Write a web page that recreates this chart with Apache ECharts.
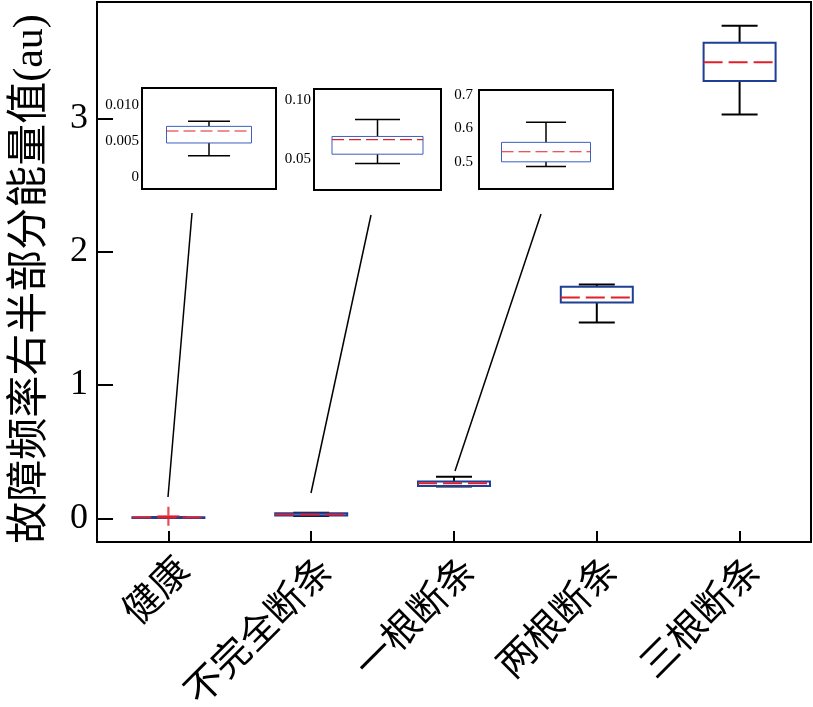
<!DOCTYPE html>
<html><head><meta charset="utf-8">
<script src="https://cdn.jsdelivr.net/npm/echarts@6/dist/echarts.min.js"></script>
<style>html,body{margin:0;padding:0;background:#fff}#c{width:813px;height:707px}</style>
</head><body><div id="c"></div>
<script>
// ---- data ----
const categories = ['健康', '不完全断条', '一根断条', '两根断条', '三根断条'];
const whiskerLow  = [0.002, 0.018, 0.238, 1.47, 3.029];
const quartile1   = [0.003, 0.020, 0.242, 1.62, 3.281];
const medians     = [0.006, 0.028, 0.262, 1.656, 3.421];
const quartile3   = [0.007, 0.037, 0.276, 1.737, 3.569];
const whiskerHigh = [0.008, 0.042, 0.312, 1.755, 3.696];
const outliers    = [[0, 0.015]];
const yTicks = [0, 1, 2, 3];

// inset boxes: [low, q1, median, q3, high]
const inset1Box = [0.00297, 0.00475, 0.00642, 0.00707, 0.00777];
const inset2Box = [0.0463, 0.0542, 0.0665, 0.0691, 0.0834];
const inset3Box = [0.486, 0.500, 0.530, 0.558, 0.618];
const inset1Ticks = [0, 0.005, 0.010];
const inset1Labels = ['0', '0.005', '0.010'];
const inset2Ticks = [0.05, 0.10];
const inset2Labels = ['0.05', '0.10'];
const inset3Ticks = [0.5, 0.6, 0.7];
const inset3Labels = ['0.5', '0.6', '0.7'];

const SERIF = '"Liberation Serif", "Noto Sans CJK SC", serif';

function makeRender(o) {
  return function (params, api) {
    const xi = api.value(0);
    const c = v => api.coord([xi, v]);
    const pl = c(api.value(1)), p1 = c(api.value(2)), pm = c(api.value(3)), p3 = c(api.value(4)), ph = c(api.value(5));
    const cx = pm[0], bw = o.boxW, cw = o.capW;
    const blk = { stroke: '#000', lineWidth: o.wLW };
    return {
      type: 'group',
      children: [
        { type: 'line', shape: { x1: cx, y1: p3[1], x2: cx, y2: ph[1] }, style: blk },
        { type: 'line', shape: { x1: cx, y1: p1[1], x2: cx, y2: pl[1] }, style: blk },
        { type: 'line', shape: { x1: cx - cw / 2, y1: ph[1], x2: cx + cw / 2, y2: ph[1] }, style: blk },
        { type: 'line', shape: { x1: cx - cw / 2, y1: pl[1], x2: cx + cw / 2, y2: pl[1] }, style: blk },
        { type: 'rect', shape: { x: cx - bw / 2, y: p3[1], width: bw, height: p1[1] - p3[1] },
          style: { fill: 'none', stroke: o.blue, lineWidth: o.bLW } },
        { type: 'line', shape: { x1: cx - bw / 2, y1: pm[1], x2: cx + bw / 2, y2: pm[1] },
          style: { stroke: '#e0202a', lineWidth: o.mLW, lineDash: o.dash } }
      ]
    };
  };
}

const mainData = categories.map((c, i) => [i, whiskerLow[i], quartile1[i], medians[i], quartile3[i], whiskerHigh[i]]);

function insetAxes(gi, min, max, ticks, labels, margin) {
  return {
    x: { type: 'category', gridIndex: gi, data: ['x'], show: false },
    y: {
      type: 'value', gridIndex: gi, min: min, max: max, splitLine: { show: false },
      axisLine: { show: false },
      axisTick: { show: true, inside: true, length: 9, customValues: ticks, lineStyle: { color: '#000', width: 1.5 } },
      axisLabel: { show: true, customValues: ticks, margin: margin, fontSize: 15, color: '#000', fontFamily: SERIF,
        formatter: v => { const k = ticks.findIndex(t => Math.abs(t - v) < 1e-9); return k >= 0 ? labels[k] : ''; } }
    }
  };
}
const a1 = insetAxes(1, -0.00168, 0.01243, inset1Ticks, inset1Labels, 3);
const a2 = insetAxes(2, 0.0241, 0.109, inset2Ticks, inset2Labels, 3);
const a3 = insetAxes(3, 0.419, 0.714, inset3Ticks, inset3Labels, 6);

const chart = echarts.init(document.getElementById('c'), null, { renderer: 'canvas' });
chart.setOption({
  backgroundColor: '#fff',
  animation: false,
  grid: [
    { left: 97, top: 2, right: 2, bottom: 165, show: true, borderColor: '#000', borderWidth: 2, z: 1, containLabel: false, outerBoundsMode: 'none' },
    { left: 142, top: 88, width: 134, height: 101, show: true, borderColor: '#000', borderWidth: 2, backgroundColor: '#fff', z: 5, outerBoundsMode: 'none' },
    { left: 314, top: 89, width: 127, height: 101, show: true, borderColor: '#000', borderWidth: 2, backgroundColor: '#fff', z: 5, outerBoundsMode: 'none' },
    { left: 479, top: 90, width: 134, height: 99, show: true, borderColor: '#000', borderWidth: 2, backgroundColor: '#fff', z: 5, outerBoundsMode: 'none' }
  ],
  xAxis: [
    { type: 'category', gridIndex: 0, data: categories,
      axisLine: { show: true, onZero: false, lineStyle: { color: '#000', width: 2 } },
      axisTick: { show: true, inside: true, alignWithLabel: true, length: 11, lineStyle: { color: '#000', width: 2 } },
      axisLabel: { rotate: 45, fontSize: 38, color: '#000', margin: 7, verticalAlign: 'top', align: 'right',
        fontFamily: '"Noto Sans CJK SC", sans-serif' } },
    a1.x, a2.x, a3.x
  ],
  yAxis: [
    { type: 'value', gridIndex: 0, min: -0.178, max: 3.874, splitLine: { show: false },
      name: '故障频率右半部分能量值(au)', nameLocation: 'middle', nameGap: 45,
      nameTextStyle: { fontSize: 42, color: '#000', fontFamily: SERIF, padding: [0, 14, 0, 0] },
      axisLine: { show: true, onZero: false, lineStyle: { color: '#000', width: 2 } },
      axisTick: { show: true, inside: true, length: 16, customValues: yTicks, lineStyle: { color: '#000', width: 2 } },
      axisLabel: { show: true, customValues: yTicks, fontSize: 36, color: '#000', margin: 9, fontFamily: SERIF } },
    a1.y, a2.y, a3.y
  ],
  series: [
    { type: 'custom', xAxisIndex: 0, yAxisIndex: 0, data: mainData, encode: { x: 0, y: [1, 2, 3, 4, 5] },
      renderItem: makeRender({ boxW: 72, capW: 36, wLW: 2, bLW: 2, mLW: 2, blue: '#1f3f95', dash: [19, 6] }), z: 2 },
    { type: 'scatter', xAxisIndex: 0, yAxisIndex: 0, data: outliers,
      symbol: 'path://M0,9 L20,9 L20,11 L0,11 Z M9,0 L11,0 L11,20 L9,20 Z', symbolSize: [22, 19],
      itemStyle: { color: '#e0202a' }, z: 3 },
    { type: 'custom', xAxisIndex: 1, yAxisIndex: 1, data: [[0].concat(inset1Box)], encode: { x: 0, y: [1, 2, 3, 4, 5] },
      renderItem: makeRender({ boxW: 85, capW: 42, wLW: 1.5, bLW: 1, mLW: 1.2, blue: '#3d5fbf', dash: [12, 5] }), z: 6 },
    { type: 'custom', xAxisIndex: 2, yAxisIndex: 2, data: [[0].concat(inset2Box)], encode: { x: 0, y: [1, 2, 3, 4, 5] },
      renderItem: makeRender({ boxW: 91, capW: 45, wLW: 1.5, bLW: 1, mLW: 1.2, blue: '#3d5fbf', dash: [12, 5] }), z: 6 },
    { type: 'custom', xAxisIndex: 3, yAxisIndex: 3, data: [[0].concat(inset3Box)], encode: { x: 0, y: [1, 2, 3, 4, 5] },
      renderItem: makeRender({ boxW: 89, capW: 40, wLW: 1.5, bLW: 1, mLW: 1.2, blue: '#3d5fbf', dash: [12, 5] }), z: 6 }
  ],
  graphic: [
    { type: 'line', shape: { x1: 192, y1: 213, x2: 168, y2: 497 }, style: { stroke: '#000', lineWidth: 1.5 }, z: 10 },
    { type: 'line', shape: { x1: 371, y1: 215, x2: 311, y2: 493 }, style: { stroke: '#000', lineWidth: 1.5 }, z: 10 },
    { type: 'line', shape: { x1: 541, y1: 214, x2: 455, y2: 471 }, style: { stroke: '#000', lineWidth: 1.5 }, z: 10 }
  ]
});
</script>
</body></html>
